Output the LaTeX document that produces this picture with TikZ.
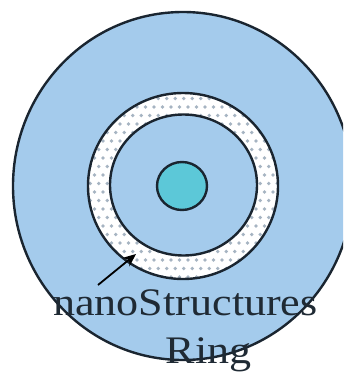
\documentclass[tikz,border=0pt]{standalone}
\usepackage{fontspec}
\setmainfont{Liberation Serif}
\usepackage{xcolor}
\usetikzlibrary{arrows.meta}
\definecolor{ink}{HTML}{1A2530}
\definecolor{sky}{HTML}{A4CBEC}
\definecolor{core}{HTML}{5CC8D8}
\definecolor{speck}{HTML}{A6B4C2}
\definecolor{label}{HTML}{1F2A34}
\tikzset{
  rim/.style={draw=ink,line width=2.4pt},
  dot/.style={fill=speck},
  caption/.style={text=label,anchor=base,inner sep=0pt,xscale=1.13,
    font=\fontsize{39}{39}\selectfont},
  pointer/.style={-{Stealth[length=13pt,width=11pt]},line width=1.8pt,draw=black}
}
\begin{document}
\begin{tikzpicture}[x=1pt,y=-1pt]
  \fill[white] (0,0) rectangle (343,372);
  \useasboundingbox (0,0) rectangle (343,372);
  \begin{scope}
    \clip (0,0) rectangle (343,372);
    \filldraw[rim,fill=sky] (183,186) ellipse [x radius=170,y radius=174];
  \end{scope}
  % dotted ring
  \fill[white] (183,186) ellipse [x radius=95,y radius=93];
  \begin{scope}
    \clip (183,186) ellipse [x radius=95,y radius=93];
    \foreach \i in {0,...,23}{
      \foreach \j in {0,...,23}{
        \fill[dot] ({86+8.5*\i+4.25*mod(\j,2)},{90+8.5*\j}) circle (1.8);
      }
    }
  \end{scope}
  \draw[rim] (183,186) ellipse [x radius=95,y radius=93];
  \filldraw[rim,fill=sky] (183.5,185) ellipse [x radius=73.5,y radius=70.5];
  \filldraw[rim,fill=core] (182,186) ellipse [x radius=25,y radius=24];
  % label
  \node[caption] (nano) at (185.5,315) {nanoStructures};
  \node[caption] (ring) at (208.5,363) {Ring};
  \coordinate (tail) at (98,285);
  \coordinate (tip) at (136,254);
  \draw[pointer] (tail) -- (tip);
\end{tikzpicture}
\end{document}
